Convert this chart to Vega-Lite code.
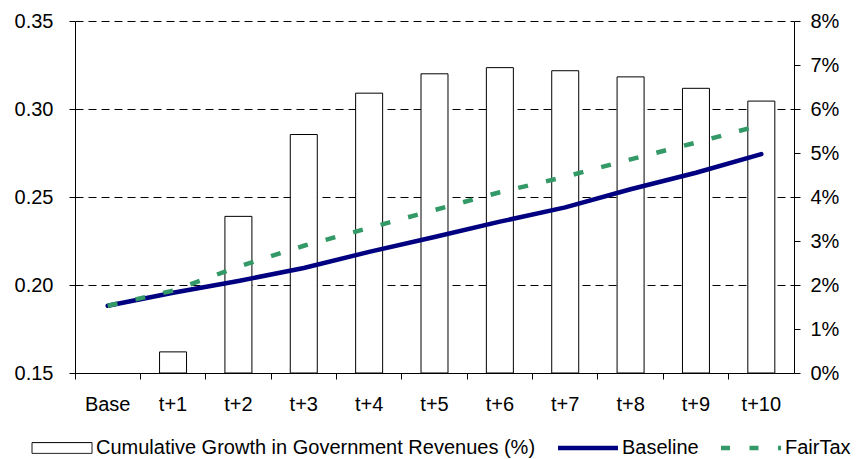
{
  "$schema": "https://vega.github.io/schema/vega-lite/v6.json",
  "autosize": "none",
  "width": 719,
  "height": 352,
  "padding": {"left": 75, "top": 21, "right": 64, "bottom": 86},
  "background": "white",
  "config": {
    "font": "Liberation Sans",
    "view": {"stroke": null},
    "axis": {
      "labelFont": "Liberation Sans",
      "labelFontSize": 20,
      "labelColor": "black",
      "domainColor": "black",
      "domainWidth": 1,
      "tickColor": "black",
      "tickWidth": 1,
      "tickSize": 6,
      "title": null
    },
    "legend": {
      "labelFont": "Liberation Sans",
      "labelFontSize": 20,
      "labelColor": "black",
      "labelLimit": 1000
    }
  },
  "data": {
    "values": [
      {"period": "Base", "growth": null, "baseline": 0.1882, "fairtax": 0.1882},
      {"period": "t+1", "growth": 0.0048, "baseline": 0.1956, "fairtax": 0.1968},
      {"period": "t+2", "growth": 0.0356, "baseline": 0.2023, "fairtax": 0.2104},
      {"period": "t+3", "growth": 0.0542, "baseline": 0.2097, "fairtax": 0.2223},
      {"period": "t+4", "growth": 0.0636, "baseline": 0.2188, "fairtax": 0.2324},
      {"period": "t+5", "growth": 0.0680, "baseline": 0.2273, "fairtax": 0.2426},
      {"period": "t+6", "growth": 0.0694, "baseline": 0.2360, "fairtax": 0.2527},
      {"period": "t+7", "growth": 0.0687, "baseline": 0.2441, "fairtax": 0.2615},
      {"period": "t+8", "growth": 0.0673, "baseline": 0.2544, "fairtax": 0.2714},
      {"period": "t+9", "growth": 0.0647, "baseline": 0.2638, "fairtax": 0.2809},
      {"period": "t+10", "growth": 0.0618, "baseline": 0.2744, "fairtax": 0.2909}
    ]
  },
  "encoding": {
    "x": {
      "field": "period",
      "type": "ordinal",
      "sort": null,
      "scale": {
        "domain": ["Base", "t+1", "t+2", "t+3", "t+4", "t+5", "t+6", "t+7", "t+8", "t+9", "t+10"],
        "paddingInner": 0,
        "paddingOuter": 0
      },
      "axis": {"labelAngle": 0, "bandPosition": 0, "labelPadding": 15, "grid": false}
    }
  },
  "layer": [
    {
      "mark": {"type": "bar", "fill": "white", "width": {"band": 0.413}},
      "encoding": {
        "y": {
          "field": "growth",
          "type": "quantitative",
          "scale": {"domain": [0, 0.08], "nice": false, "zero": true},
          "axis": {
            "orient": "right",
            "values": [0, 0.01, 0.02, 0.03, 0.04, 0.05, 0.06, 0.07, 0.08],
            "format": ".0%",
            "labelPadding": 10,
            "grid": false
          }
        },
        "stroke": {
          "datum": "Cumulative Growth in Government Revenues (%)",
          "type": "nominal",
          "scale": {
            "domain": ["Cumulative Growth in Government Revenues (%)", "Baseline", "FairTax"],
            "range": ["black", "#000080", "#339966"]
          },
          "legend": {
            "title": null,
            "orient": "none",
            "direction": "horizontal",
            "legendX": -23,
            "legendY": 417,
            "padding": 0,
            "symbolSize": 3600,
            "symbolType": {"expr": "datum.value === 'Baseline' || datum.value === 'FairTax' ? 'M-1,0H1' : 'M-1,-0.18H1V0.18H-1Z'"},
            "symbolStrokeWidth": {"expr": "datum.value === 'Baseline' || datum.value === 'FairTax' ? 4.5 : 1"},
            "symbolDash": {"expr": "datum.value === 'FairTax' ? [9, 19.5] : [1, 0]"},
            "symbolFillColor": "white",
            "labelOffset": 24,
            "columnPadding": 13
          }
        }
      }
    },
    {
      "layer": [
        {
          "mark": {"type": "line", "strokeWidth": 4.5, "strokeCap": "round"},
          "encoding": {
            "y": {"field": "baseline", "type": "quantitative"},
            "stroke": {"datum": "Baseline", "type": "nominal", "legend": null}
          }
        },
        {
          "mark": {"type": "line", "strokeWidth": 4.5, "strokeDash": [10, 18.5], "strokeCap": "butt"},
          "encoding": {
            "y": {"field": "fairtax", "type": "quantitative"},
            "stroke": {"datum": "FairTax", "type": "nominal", "legend": null}
          }
        }
      ],
      "encoding": {
        "y": {
          "type": "quantitative",
          "scale": {"domain": [0.15, 0.35], "nice": false, "zero": false},
          "axis": {
            "orient": "left",
            "values": [0.15, 0.2, 0.25, 0.3, 0.35],
            "format": ".2f",
            "labelPadding": 16,
            "grid": true,
            "gridColor": "black",
            "gridDash": [8, 5],
            "gridWidth": 1,
            "gridOpacity": 1
          }
        }
      }
    }
  ],
  "resolve": {"scale": {"y": "independent"}}
}
